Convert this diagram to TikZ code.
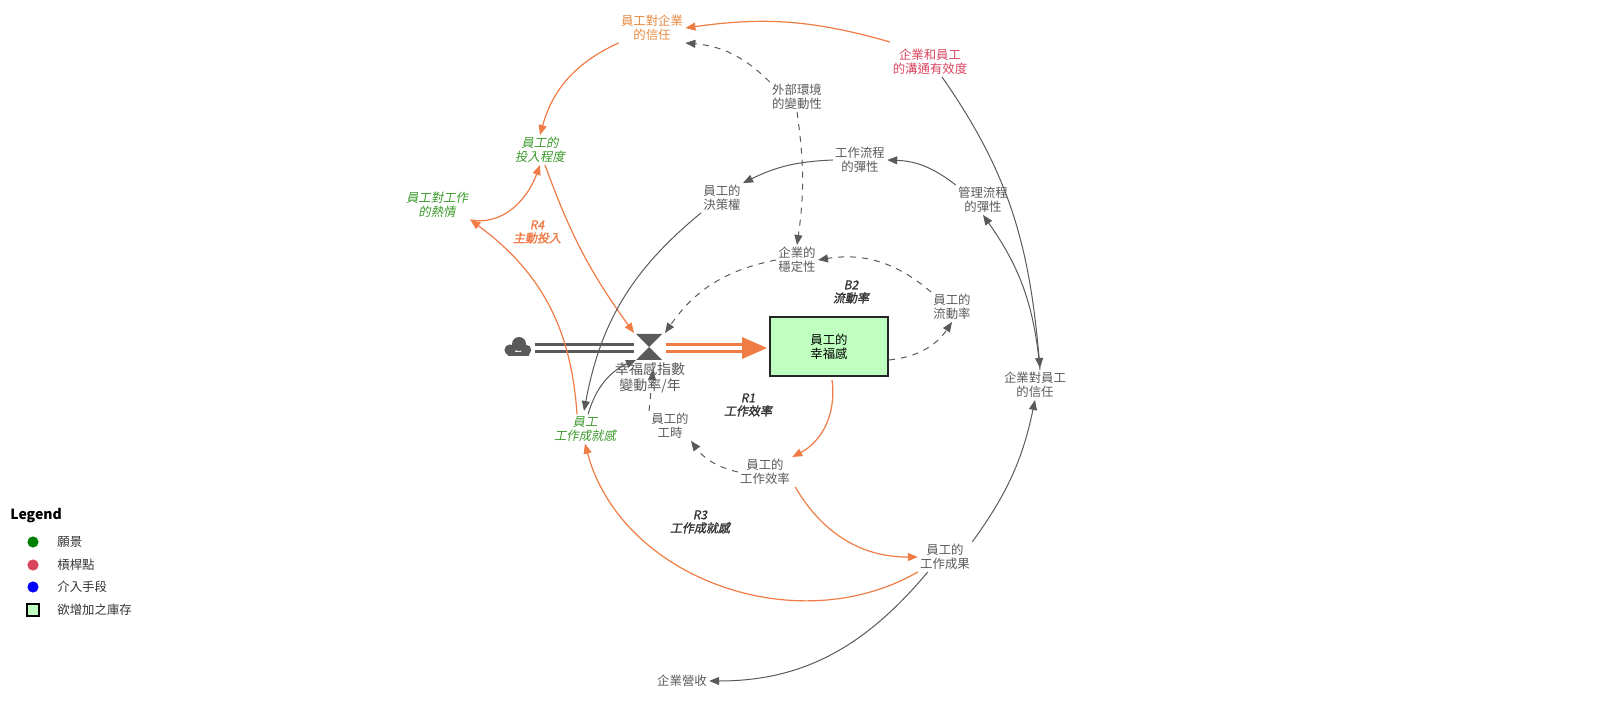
\documentclass[tikz,border=0pt]{standalone}
\usepackage{fontspec}
\setmainfont{Noto Sans CJK TC}
\newfontfamily\slfont[FakeSlant=0.2]{Noto Sans CJK TC}
\newfontfamily\slbfont[FakeSlant=0.2,FakeBold=1.5]{Noto Sans CJK TC}
\usetikzlibrary{arrows.meta,shapes.geometric}
\definecolor{og}{HTML}{EF7B45}
\definecolor{gr}{HTML}{5A5A5A}
\definecolor{gn}{HTML}{3A9A2A}
\definecolor{rd}{HTML}{D9455F}
\definecolor{lt}{HTML}{E8893F}
\tikzset{
 lbl/.style={font=\fontsize{6.2}{6.8}\selectfont,align=center,text=gr,inner sep=1pt},
 vis/.style={lbl,text=gn,font=\fontsize{6.2}{6.8}\selectfont\slfont},
 loopl/.style={lbl,text=black!80,font=\fontsize{6}{6.6}\selectfont\slbfont},
 oa/.style={og,line width=0.6pt,-{Triangle[length=5pt,width=4pt]}},
 ga/.style={gr,line width=0.5pt,-{Triangle[length=5pt,width=4pt]}},
 da/.style={ga,dashed}
}
\begin{document}
\begin{tikzpicture}[x=0.5pt,y=-0.5pt]
\useasboundingbox (0,0) rectangle (1600,716);
\node[lbl,text=lt] (trustE) at (652,28) {員工對企業\\的信任};
\node[lbl,text=rd] (comm) at (930,62) {企業和員工\\的溝通有效度};
\node[lbl] (ext) at (797,97) {外部環境\\的變動性};
\node[vis] (invest) at (540,150) {員工的\\投入程度};
\node[lbl] (flex) at (860,160) {工作流程\\的彈性};
\node[lbl] (mgmt) at (983,200) {管理流程\\的彈性};
\node[vis] (passion) at (437,205) {員工對工作\\的熱情};
\node[lbl] (dec) at (722,198) {員工的\\決策權};
\node[loopl,text=og] (R4) at (537,232) {R4\\主動投入};
\node[lbl] (stab) at (797,260) {企業的\\穩定性};
\node[loopl] (B2) at (851,292) {B2\\流動率};
\node[lbl] (turn) at (952,307) {員工的\\流動率};
\node[draw=black!85,line width=1pt,fill=green!25,minimum width=59pt,minimum height=29.5pt,lbl,text=black] (stock) at (829,347) {員工的\\幸福感};
\fill[gr] (636,334) -- (662,334) -- (649,347) -- cycle (636,360) -- (662,360) -- (649,347) -- cycle;
\coordinate (valve) at (649,347);
\node[lbl,font=\fontsize{7}{7.8}\selectfont] (vlab) at (650,378) {幸福感指數\\變動率/年};
\coordinate (cloud) at (518,349);
\fill[gr] (510,350) circle (2.8pt) (519,344) circle (3.5pt) (526,350) circle (2.6pt) (508,352) rectangle (529,356);
\node[loopl] (R1) at (748,405) {R1\\工作效率};
\node[lbl] (hours) at (670,426) {員工的\\工時};
\node[vis] (ach) at (585,429) {員工\\工作成就感};
\node[lbl] (trustC) at (1035,385) {企業對員工\\的信任};
\node[lbl] (eff) at (765,472) {員工的\\工作效率};
\node[loopl] (R3) at (700,522) {R3\\工作成就感};
\node[lbl] (result) at (945,557) {員工的\\工作成果};
\node[lbl] (rev) at (682,681) {企業營收};
% flows
\draw[gr,line width=1.3pt,double=white,double distance=2pt] (535,348) -- (634,348);
\draw[og,line width=1.3pt,double=white,double distance=2pt] (666,348) -- (745,348);
\fill[og] (742,337) -- (767,348) -- (742,359) -- cycle;
% links
\draw[oa] (890,42) to[bend right=12] (trustE.east);
\draw[ga] (comm.south) ++(12,0) to[out=-55,in=95] (1040,368);
\draw[oa] (trustE.south west) to[bend right=25] (invest.north);
\draw[da] (ext.north west) to[bend right=20] (trustE.south east);
\draw[da] (ext.south) to[bend left=8] (stab.north);
\draw[ga] (flex.west) to[bend right=12] (dec.north east);
\draw[ga] (mgmt.north west) to[bend right=18] (flex.east);
\draw[ga] (1040,370) to[bend right=15] (mgmt.south);
\draw[oa] (passion.south east) to[out=-10,in=-110] (invest.south);
\draw[oa] (invest.south) ++(5,0) to[bend right=8] (634,333);
\draw[oa] (ach.north) ++(-8,0) to[bend right=25] (passion.south east);
\draw[ga] (dec.south west) to[bend right=20] (584,411);
\draw[ga] (ach.north) ++(3,0) to[bend left=25] (636,360);
\draw[da] (turn.north west) to[bend right=25] (stab.east);
\draw[da] (stab.west) to[bend right=22] (665,333);
\draw[da] (stock.east |- 360,360) to[bend right=25] (turn.south);
\draw[oa] (832,380) to[bend left=35] (eff.north east);
\draw[da] (eff.west) to[bend left=20] (hours.south east);
\draw[da] (hours.north west) -- (653,370);
\draw[oa] (eff.south east) ++(3,0) to[bend right=30] (result.west);
\draw[oa] (result.south west) to[out=-150,in=-75] (ach.south);
\draw[ga] (result.south west) ++(10,0) to[out=-130,in=0] (rev.east);
\draw[ga] (result.north east) to[bend right=12] (trustC.south);
% legend
\node[anchor=west,font=\fontsize{7}{8}\selectfont\bfseries,inner sep=0] (lg) at (10,516) {Legend};
\fill[green!50!black] (33,542) circle (2.8pt);
\fill[rd] (33,565) circle (2.8pt);
\fill[blue] (33,587) circle (2.8pt);
\draw[fill=green!25,line width=0.6pt] (27,604) rectangle (39,616);
\node[lbl,anchor=west,text=black!80] (l1) at (55,542) {願景};
\node[lbl,anchor=west,text=black!80] (l2) at (55,565) {槓桿點};
\node[lbl,anchor=west,text=black!80] (l3) at (55,587) {介入手段};
\node[lbl,anchor=west,text=black!80] (l4) at (55,610) {欲增加之庫存};
\end{tikzpicture}
\end{document}
